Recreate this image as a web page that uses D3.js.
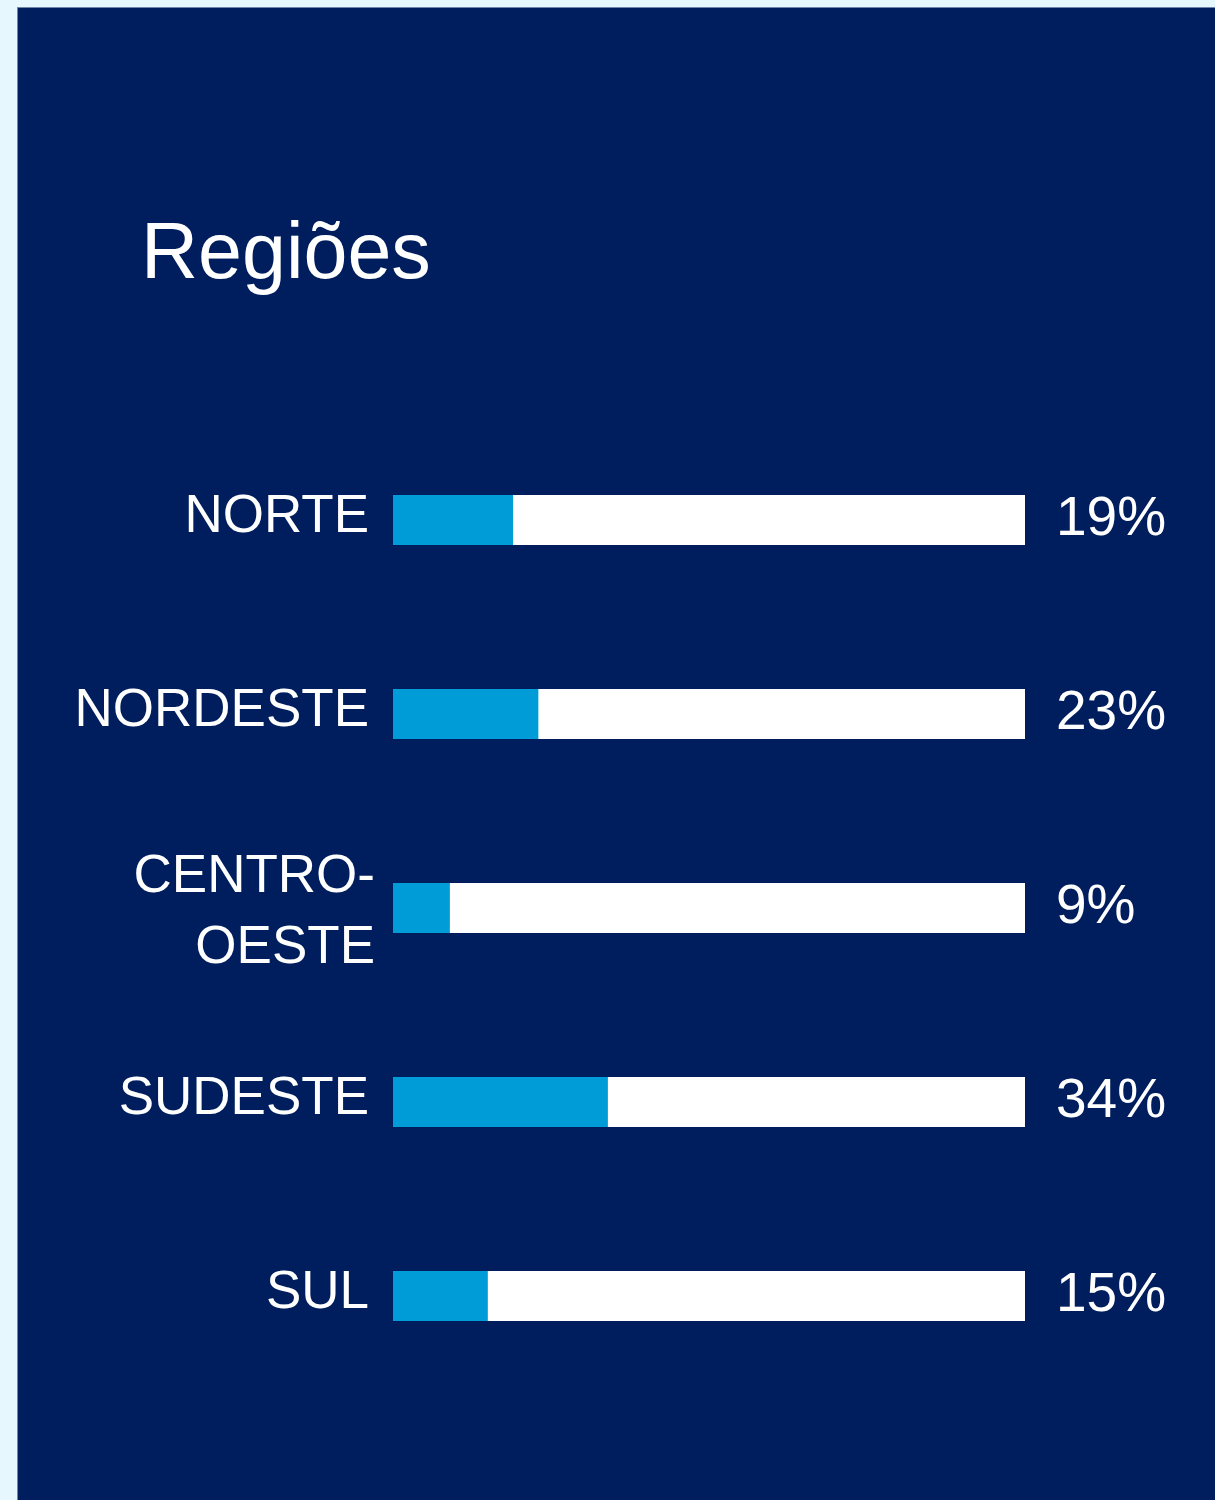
<!DOCTYPE html>
<html>
<head>
<meta charset="utf-8">
<script src="https://cdn.jsdelivr.net/npm/d3@7"></script>
<style>
  html, body { margin: 0; padding: 0; background: #e6f7fe; }
  svg { display: block; }
  text { font-family: "Liberation Sans", Arial, sans-serif; fill: #ffffff; }
</style>
</head>
<body>
<div id="chart"></div>
<script>
// Chart data
const regions = ["NORTE", "NORDESTE", "CENTRO-OESTE", "SUDESTE", "SUL"];
const labelLines = [["NORTE"], ["NORDESTE"], ["CENTRO-", "OESTE"], ["SUDESTE"], ["SUL"]];
const shares = [19, 23, 9, 34, 15];
const title = "Regiões";

// Page size
const svgW = 1215;
const svgH = 1500;

const svg = d3.select("#chart")
  .append("svg")
  .attr("width", svgW)
  .attr("height", svgH);

// Dark panel
svg.append("rect")
  .attr("x", 17.5)
  .attr("y", 7.5)
  .attr("width", svgW)
  .attr("height", svgH)
  .attr("fill", "#001e5e")
  .attr("stroke", "#6f86ad")
  .attr("stroke-width", 1);

// Title
svg.append("text")
  .attr("x", 141)
  .attr("y", 278)
  .style("font-size", "79px")
  .text(title);

// Scales
const x = d3.scaleLinear()
  .domain([0, 100])
  .range([393, 1025]);

const y = d3.scalePoint()
  .domain(regions)
  .range([520, 1296]);

const barH = 50;

const rows = svg.append("g")
  .selectAll("g")
  .data(regions)
  .enter()
  .append("g")
  .attr("transform", d => `translate(0, ${y(d)})`);

// White track
rows.append("rect")
  .attr("x", x(0))
  .attr("y", -barH / 2)
  .attr("width", x(100) - x(0))
  .attr("height", barH)
  .attr("fill", "#ffffff");

// Blue share
rows.append("rect")
  .attr("x", x(0))
  .attr("y", -barH / 2)
  .attr("width", (d, i) => x(shares[i]) - x(0))
  .attr("height", barH)
  .attr("fill", "#009cd8");

// Region labels (wrapped ones sit a bit further right)
rows.each(function(d, i) {
  const lines = labelLines[i];
  const multi = lines.length > 1;
  const t = d3.select(this).append("text")
    .attr("text-anchor", "end")
    .style("font-size", "53px");
  lines.forEach((line, k) => {
    t.append("tspan")
      .attr("x", multi ? 375 : 369)
      .attr("y", multi ? -16 + k * 71 : 12)
      .text(line);
  });
});

// Percent values
rows.append("text")
  .attr("x", 1056)
  .attr("y", 15)
  .style("font-size", "55px")
  .text((d, i) => shares[i] + "%");
</script>
</body>
</html>
